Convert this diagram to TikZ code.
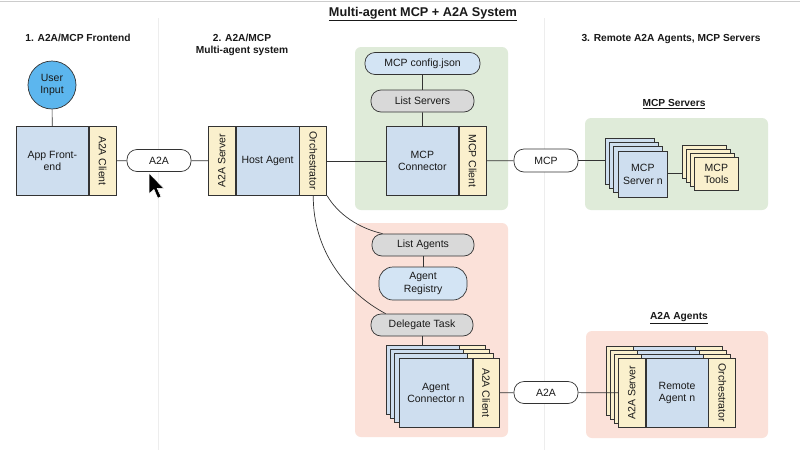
\documentclass[tikz,border=0pt]{standalone}
\usepackage{fontspec}
\setmainfont{Liberation Sans}
\usepackage{tikz}
\usetikzlibrary{calc,positioning}

\definecolor{edge}{HTML}{333333}
\definecolor{boxblue}{HTML}{CEDEEF}
\definecolor{stripyel}{HTML}{FAF0CD}
\definecolor{pillgray}{HTML}{D9D9D9}
\definecolor{pillblue}{HTML}{D3E4F4}
\definecolor{userblue}{HTML}{5CB6EE}
\definecolor{greenbg}{HTML}{DFEBD9}
\definecolor{redbg}{HTML}{FBE1D9}
\definecolor{divider}{HTML}{EDEDED}

\begin{document}
\begin{tikzpicture} [x = 1pt, y = -1pt, line width = 0.7pt,
    every node/.style = {text = black!90, inner sep = 0pt, align = center,
      font = \fontsize{10.5}{12.5}\selectfont},
    box/.style = {draw = edge, fill = boxblue, minimum height = 69pt},
    strip/.style = {draw = edge, fill = stripyel, minimum width = 27pt, minimum height = 69pt},
    pill/.style = {draw = edge, fill = white, rounded corners = 10pt, minimum height = 22pt},
    panel/.style = {rounded corners = 6pt},
    head/.style = {font = \fontsize{10.2}{12.5}\bfseries\selectfont},
    link/.style = {draw = edge, line width = 0.7pt}]
  \useasboundingbox (0,0) rectangle (800,450);
  \fill[white] (0,0) rectangle (800,450);
  \draw[gray!40] (0,1) -- (800,1);
  \draw[divider, line width = 1pt] (158,18) -- (158,450);
  \draw[divider, line width = 1pt] (544,18) -- (544,450);

  \node[font = \fontsize{12.7}{14}\bfseries\selectfont] (title) at (423,14) {\underline{Multi-agent MCP + A2A System}};
  \node[head] (h1) at (78,38) {1. A2A/MCP Frontend};
  \node[head] (h2) at (242,45) {2. A2A/MCP\\Multi-agent system};
  \node[head] (h3) at (671,39) {3. Remote A2A Agents, MCP Servers};

  \fill[greenbg, panel] (355,47) rectangle (508,210);
  \fill[greenbg, panel] (585,118) rectangle (768,210);
  \fill[redbg, panel] (355,223) rectangle (508,437);
  \fill[redbg, panel] (586,331) rectangle (768,438);

  \node[head] (hsrv) at (674,104) {\underline{MCP Servers}};
  \node[head] (hagt) at (679,318) {\underline{A2A Agents}};

  \node[circle, draw = edge, fill = userblue, minimum size = 48pt] (user) at (52,85) {User\\Input};
  \node[box, minimum width = 72pt, anchor = north west] (app) at (16,126) {App Front-\\end};
  \node[strip, right = 0pt of app] (appcli) {\rotatebox{-90}{A2A Client}};
  \node[pill, minimum width = 64pt] (pa2a) at (159,160.5) {A2A};

  \node[strip, anchor = north west] (hsrvr) at (208,126) {\rotatebox{90}{A2A Server}};
  \node[box, minimum width = 63pt, right = 0pt of hsrvr] (host) {Host Agent};
  \node[strip, right = 0pt of host] (orch) {\rotatebox{-90}{Orchestrator}};

  \node[pill, fill = pillblue, minimum width = 115pt] (cfg) at (422.5,63.5) {MCP config.json};
  \node[pill, fill = pillgray, minimum width = 103pt] (lsrv) at (422.5,101) {List Servers};
  \node[box, minimum width = 72pt, anchor = north west] (mcpc) at (386,126) {MCP\\Connector};
  \node[strip, right = 0pt of mcpc] (mcpcli) {\rotatebox{-90}{MCP Client}};
  \node[pill, minimum width = 64pt, minimum height = 23pt] (pmcp) at (546,160.5) {MCP};

  \foreach \k in {3,2,1}
    \draw[draw = edge, fill = boxblue] (618-4.3*\k,151-4.3*\k) rectangle ++(49,46);
  \node[box, minimum width = 49pt, minimum height = 46pt, anchor = north west] (srvn) at (618,151) {MCP\\Server n};
  \coordinate (srvback) at (605,160.5);
  \foreach \k in {3,2,1}
    \draw[draw = edge, fill = stripyel] (694-4*\k,157-4*\k) rectangle ++(44,33);
  \node[strip, minimum width = 44pt, minimum height = 33pt, anchor = north west] (tools) at (694,157) {MCP\\Tools};
  \coordinate (toolsback) at (682,173);

  \node[pill, fill = pillgray, minimum width = 102pt] (lag) at (423,245) {List Agents};
  \node[pill, fill = pillblue, minimum width = 88pt, minimum height = 33pt, rounded corners = 14pt] (reg) at (423,283.5) {Agent\\Registry};
  \node[pill, fill = pillgray, minimum width = 102pt] (dtask) at (422,325) {Delegate Task};

  \foreach \k in {3,2,1} {
    \draw[draw = edge, fill = boxblue] (399-4.3*\k,358-4.3*\k) rectangle ++(73,69);
    \draw[draw = edge, fill = stripyel] (472-4.3*\k,358-4.3*\k) rectangle ++(26,69);
  }
  \node[box, minimum width = 73pt, anchor = north west] (agc) at (399,358) {Agent\\Connector n};
  \node[strip, minimum width = 26pt, right = 0pt of agc] (agcli) {\rotatebox{-90}{A2A Client}};
  \coordinate (agcback) at (422,345);
  \node[pill, minimum width = 64pt] (pa2b) at (546,392.5) {A2A};

  \foreach \k in {3,2,1} {
    \draw[draw = edge, fill = stripyel] (618-4*\k,358-4*\k) rectangle ++(27,69);
    \draw[draw = edge, fill = boxblue] (645-4*\k,358-4*\k) rectangle ++(62,69);
    \draw[draw = edge, fill = stripyel] (707-4*\k,358-4*\k) rectangle ++(27,69);
  }
  \node[strip, anchor = north west] (rsrv) at (618,358) {\rotatebox{90}{A2A Server}};
  \node[box, minimum width = 62pt, right = 0pt of rsrv] (ragent) {Remote\\Agent n};
  \node[strip, right = 0pt of ragent] (rorch) {\rotatebox{-90}{Orchestrator}};

  \draw[link] (user) -- (app);
  \draw[link] (appcli) -- (pa2a);
  \draw[link] (pa2a) -- (hsrvr);
  \draw[link] (orch) -- (mcpc);
  \draw[link] (cfg) -- (lsrv);
  \draw[link] (lsrv) -- (mcpc);
  \draw[link] (mcpcli) -- (pmcp);
  \draw[link] (pmcp) -- (srvback);
  \draw[link] (srvn.east |- toolsback) -- (toolsback);
  \draw[link] (lag) -- (reg);
  \draw[link] (dtask) -- (agcback);
  \draw[link] (agcli) -- (pa2b);
  \draw[link] (pa2b) -- (rsrv);
  \draw[link] (orch.south east) .. controls (338,214) and (358,228) .. ([xshift = 11pt]lag.north west);
  \draw[link] (orch.south) .. controls (313,250) and (345,292) .. ([xshift = 15pt]dtask.north west);

  \filldraw[fill = black, draw = white, line width = 0.6pt, shift = {(149,173)}, scale = 1.1]
    (0,0) -- (0,19) -- (4.5,15) -- (8,23) -- (11,21.5) -- (7.5,14) -- (13.5,14) -- cycle;
\end{tikzpicture}
\end{document}
